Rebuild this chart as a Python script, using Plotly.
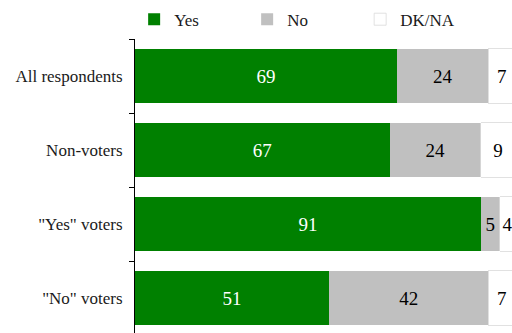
import plotly.graph_objects as go

groups = ["All respondents", "Non-voters", "\"Yes\" voters", "\"No\" voters"]
yes_vals = [69, 67, 91, 51]
no_vals = [24, 24, 5, 42]
dkna_vals = [7, 9, 4, 7]

SERIF = "Liberation Serif"

series = [
    ("Yes", yes_vals, "#008000", "white", "#008000", 0),
    ("No", no_vals, "#c0c0c0", "black", "#c0c0c0", 0),
    ("DK/NA", dkna_vals, "white", "black", "#d9d9d9", 0.8),
]

fig = go.Figure()
for name, vals, color, txtcolor, edge, edgew in series:
    fig.add_trace(go.Bar(
        name=name,
        y=groups,
        x=vals,
        orientation="h",
        marker=dict(color=color, line=dict(color=edge, width=edgew)),
        text=[str(v) for v in vals],
        textposition="inside",
        insidetextanchor="middle",
        constraintext="none",
        textfont=dict(family=SERIF, size=19, color=txtcolor),
        hoverinfo="skip",
    ))

fig.update_layout(
    width=512,
    height=333,
    barmode="stack",
    bargap=0.26,
    margin=dict(l=135, r=0, t=39, b=0, autoexpand=False),
    paper_bgcolor="white",
    plot_bgcolor="white",
    font=dict(family=SERIF, size=16, color="#1a1a1a"),
    showlegend=True,
    legend=dict(
        orientation="h",
        xref="container",
        x=0.262, xanchor="left",
        yref="container",
        y=0.995, yanchor="top",
        font=dict(family=SERIF, size=17),
        entrywidth=68,
        itemwidth=30,
        traceorder="normal",
    ),
    xaxis=dict(
        range=[0, 99.2],
        showgrid=False,
        zeroline=False,
        showticklabels=False,
        ticks="",
        showline=False,
    ),
    yaxis=dict(
        type="category",
        categoryorder="array",
        categoryarray=groups,
        range=[3.473, -0.5],
        showgrid=False,
        zeroline=False,
        showline=True,
        linecolor="black",
        linewidth=1,
        ticks="outside",
        tickson="boundaries",
        ticklen=5,
        tickcolor="black",
        tickfont=dict(family=SERIF, size=17, color="#1a1a1a"),
        ticklabelstandoff=8,
    ),
)

fig.write_html("out.html")
